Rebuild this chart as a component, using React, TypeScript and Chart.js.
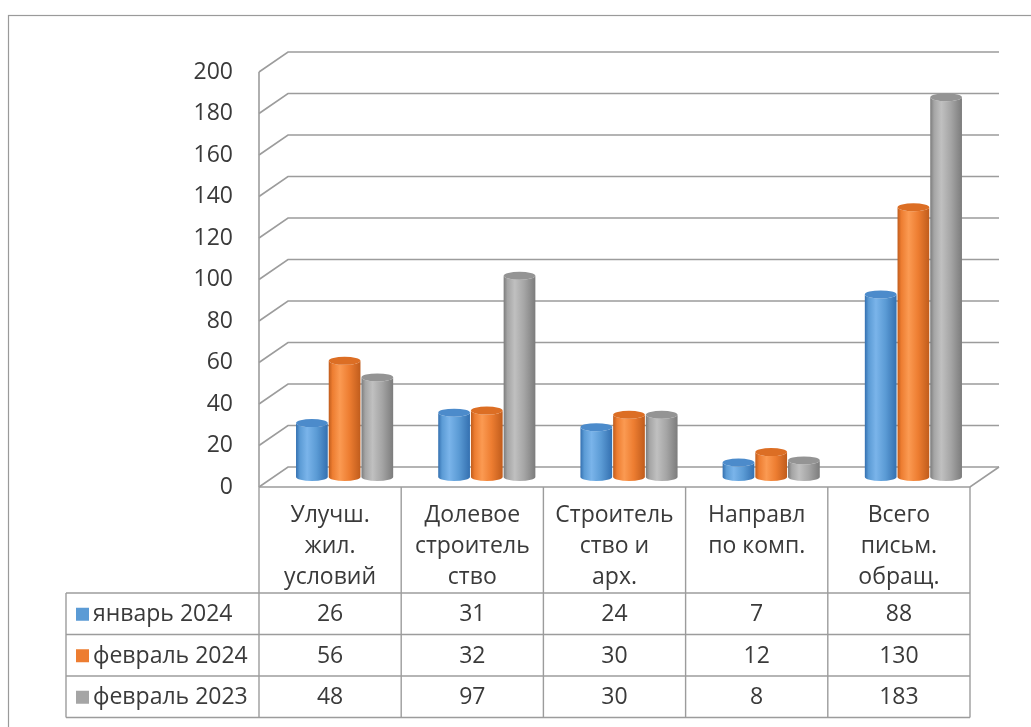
import React, { useEffect, useRef } from 'react';
import { Chart, registerables } from 'chart.js';

Chart.register(...registerables);

// ---- data ----
const categories: string[][] = [
  ['Улучш.', 'жил.', 'условий'],
  ['Долевое', 'строитель', 'ство'],
  ['Строитель', 'ство и', 'арх.'],
  ['Направл', 'по комп.'],
  ['Всего', 'письм.', 'обращ.'],
];
const seriesNames = ['январь 2024', 'февраль 2024', 'февраль 2023'];
const jan2024 = [26, 31, 24, 7, 88];
const feb2024 = [56, 32, 30, 12, 130];
const feb2023 = [48, 97, 30, 8, 183];
const yMin = 0;
const yMax = 200;
const yStep = 20;

// ---- styles ----
const FONT = '"Open Sans", "Noto Sans", sans-serif';
const FS = 23;
const TEXT = '#3a3a3a';
const GRID = '#9c9c9c';
const DX = 29; // depth offset (front -> back)
const DY = 20;
const palette = [
  { base: '#5B9BD5', dark: '#3470b0', light: '#7ab4ea', cap: '#4c8bcb' },
  { base: '#ED7D31', dark: '#c05c1c', light: '#fb9a52', cap: '#dc6e24' },
  { base: '#A5A5A5', dark: '#7c7c7c', light: '#c0c0c0', cap: '#949494' },
];

const excel3d = {
  id: 'excel3d',
  beforeDraw(chart: any) {
    const { ctx, width, height } = chart;
    ctx.save();
    ctx.fillStyle = '#ffffff';
    ctx.fillRect(0, 0, width, height);
    ctx.strokeStyle = '#9a9a9a';
    ctx.lineWidth = 1.2;
    ctx.strokeRect(8.5, 15.5, width + 40, height + 40);
    ctx.restore();
  },
  beforeDatasetsDraw(chart: any) {
    const { ctx, chartArea: ca } = chart;
    const y = chart.scales.y;
    const y0 = y.getPixelForValue(0);
    ctx.save();
    ctx.strokeStyle = GRID;
    ctx.lineWidth = 1.6;
    y.ticks.forEach((t: any) => {
      const yy = y.getPixelForValue(t.value);
      ctx.beginPath();
      ctx.moveTo(ca.left, yy);
      ctx.lineTo(ca.left + DX, yy - DY);
      ctx.lineTo(ca.right + DX, yy - DY);
      ctx.stroke();
    });
    ctx.beginPath();
    ctx.moveTo(ca.left, y0);
    ctx.lineTo(ca.right, y0);
    ctx.lineTo(ca.right + DX, y0 - DY);
    ctx.stroke();
    ctx.beginPath();
    ctx.moveTo(ca.left, ca.top);
    ctx.lineTo(ca.left, y0);
    ctx.stroke();
    ctx.restore();
  },
  afterDatasetsDraw(chart: any) {
    const { ctx } = chart;
    const n = chart.data.labels.length;
    for (let i = 0; i < n; i++) {
      chart.data.datasets.forEach((_: any, d: number) => {
        const el = chart.getDatasetMeta(d).data[i];
        const p = el.getProps(['x', 'y', 'base', 'width'], true);
        const c = palette[d];
        const cx = p.x + DX / 2;
        const top = p.y - DY / 2;
        const bot = p.base - DY / 2;
        const rx = p.width / 2;
        const ry = 4;
        const g = ctx.createLinearGradient(cx - rx, 0, cx + rx, 0);
        g.addColorStop(0, c.dark);
        g.addColorStop(0.12, c.base);
        g.addColorStop(0.35, c.light);
        g.addColorStop(0.65, c.base);
        g.addColorStop(1, c.dark);
        ctx.save();
        ctx.beginPath();
        ctx.moveTo(cx - rx, top);
        ctx.lineTo(cx - rx, bot);
        ctx.ellipse(cx, bot, rx, ry, 0, Math.PI, 0, true);
        ctx.lineTo(cx + rx, top);
        ctx.ellipse(cx, top, rx, ry, 0, 0, Math.PI, false);
        ctx.closePath();
        ctx.fillStyle = g;
        ctx.fill();
        ctx.beginPath();
        ctx.ellipse(cx, top, rx, ry, 0, 0, Math.PI * 2);
        ctx.fillStyle = c.cap;
        ctx.fill();
        ctx.restore();
      });
    }
  },
  afterDraw(chart: any) {
    const { ctx, chartArea: ca } = chart;
    const y0 = chart.scales.y.getPixelForValue(0);
    const n = chart.data.labels.length;
    const colW = (ca.right - ca.left) / n;
    const hdrBottom = y0 + 106;
    const rowH = 41.5;
    const legendLeft = 66;
    const rows = chart.data.datasets.length;
    const tableBottom = hdrBottom + rows * rowH;
    ctx.save();
    ctx.strokeStyle = GRID;
    ctx.lineWidth = 1.4;
    for (let i = 0; i <= n; i++) {
      const xx = ca.left + i * colW;
      ctx.beginPath();
      ctx.moveTo(xx, y0);
      ctx.lineTo(xx, tableBottom);
      ctx.stroke();
    }
    ctx.beginPath();
    ctx.moveTo(legendLeft, hdrBottom);
    ctx.lineTo(legendLeft, tableBottom);
    ctx.stroke();
    for (let r = 0; r <= rows; r++) {
      const yy = hdrBottom + r * rowH;
      ctx.beginPath();
      ctx.moveTo(legendLeft, yy);
      ctx.lineTo(ca.right, yy);
      ctx.stroke();
    }
    ctx.font = `${FS}px ${FONT}`;
    ctx.textBaseline = 'middle';
    chart.data.datasets.forEach((ds: any, r: number) => {
      const cy = hdrBottom + r * rowH + rowH / 2;
      ctx.fillStyle = palette[r].base;
      ctx.fillRect(legendLeft + 10, cy - 6, 13, 13);
      ctx.fillStyle = TEXT;
      ctx.textAlign = 'left';
      ctx.fillText(ds.label, legendLeft + 27, cy + 1);
      ctx.textAlign = 'center';
      ds.data.forEach((v: number, i: number) => {
        const cx = chart.scales.x.getPixelForValue(i);
        ctx.fillText(String(v), cx, cy + 1);
      });
    });
    ctx.restore();
  },
};

export default function App() {
  const ref = useRef<HTMLCanvasElement | null>(null);
  useEffect(() => {
    if (!ref.current) return;
    const chart = new Chart(ref.current, {
      type: 'bar',
      data: {
        labels: categories,
        datasets: [
          { label: seriesNames[0], data: jan2024, backgroundColor: 'rgba(0,0,0,0)' },
          { label: seriesNames[1], data: feb2024, backgroundColor: 'rgba(0,0,0,0)' },
          { label: seriesNames[2], data: feb2023, backgroundColor: 'rgba(0,0,0,0)' },
        ],
      },
      options: {
        animation: false,
        responsive: true,
        maintainAspectRatio: false,
        datasets: { bar: { categoryPercentage: 0.69, barPercentage: 0.97 } },
        layout: { padding: { top: 72, right: 61, bottom: 0, left: 0 } },
        plugins: { legend: { display: false }, tooltip: { enabled: false } },
        scales: {
          x: {
            grid: { display: false, drawTicks: false },
            border: { display: false },
            ticks: {
              color: TEXT,
              font: { family: FONT, size: FS, lineHeight: 31 / FS },
              padding: 13,
              maxRotation: 0,
              autoSkip: false,
            },
            afterFit(scale: any) {
              scale.height = 240;
            },
          },
          y: {
            min: yMin,
            max: yMax,
            grid: { display: false, drawTicks: false },
            border: { display: false },
            ticks: {
              stepSize: yStep,
              color: TEXT,
              font: { family: FONT, size: FS },
              padding: 26,
            },
            afterFit(scale: any) {
              scale.width = 259;
            },
          },
        },
      },
      plugins: [excel3d],
    });
    return () => chart.destroy();
  }, []);
  return (
    <div style={{ position: 'fixed', left: 0, top: 0, width: 1031, height: 727 }}>
      <canvas ref={ref} />
    </div>
  );
}
